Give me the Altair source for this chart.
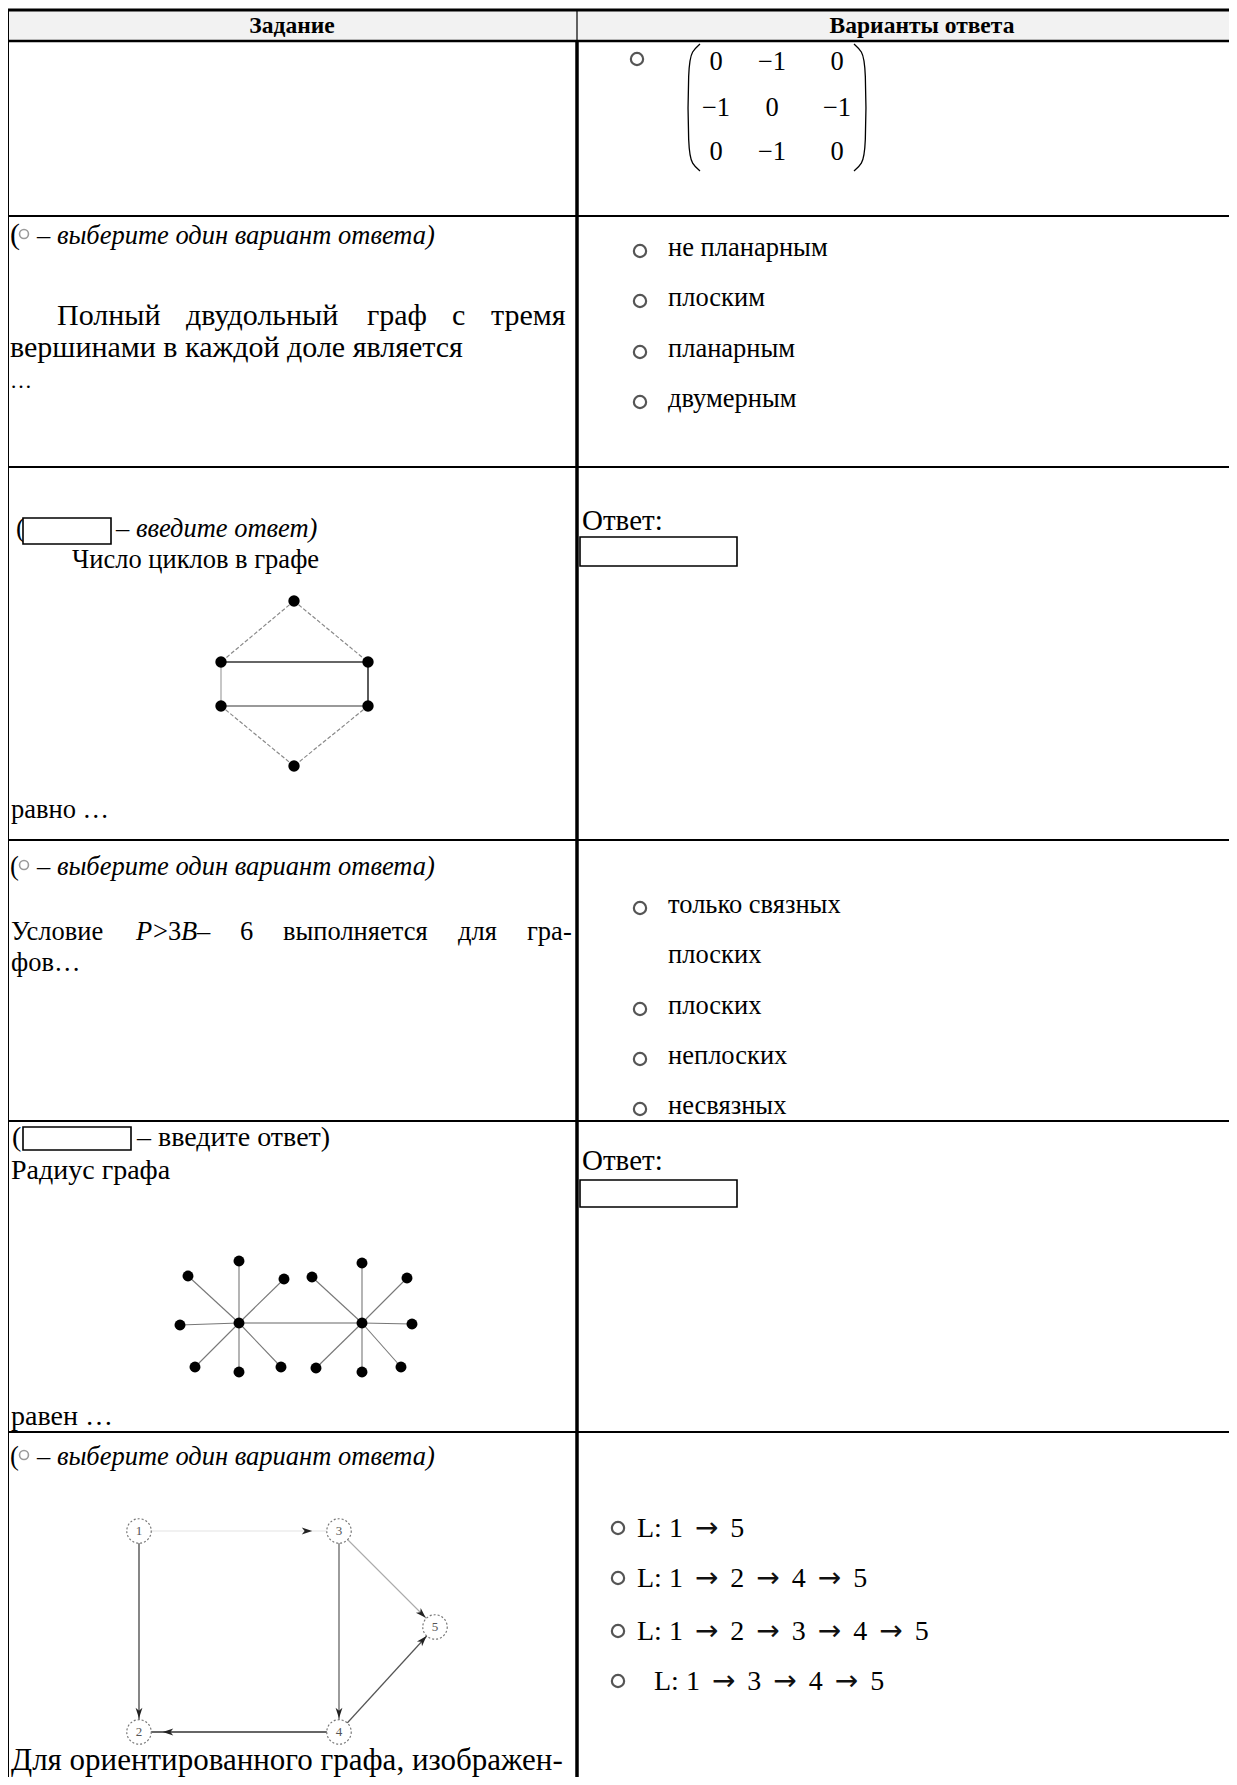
import altair as alt
import pandas as pd

FONT = "Liberation Serif"
FS = 26.5          # main body font size
X_DOM = [8, 1229]
Y_DOM = [8, 1777]
W = X_DOM[1] - X_DOM[0]
H = Y_DOM[1] - Y_DOM[0]

XS = alt.Scale(domain=X_DOM, nice=False, zero=False)
YS = alt.Scale(domain=Y_DOM, nice=False, zero=False, reverse=True)


def X(f="x"):
    return alt.X(f"{f}:Q", scale=XS, axis=None)


def Y(f="y"):
    return alt.Y(f"{f}:Q", scale=YS, axis=None)


# ---------------- table grid ----------------
H_RULE_Y = [10, 41, 216, 467, 840, 1121, 1432]
H_RULE_W = [3, 2.5, 2, 2, 2, 2, 2]
V_RULE_X = [8, 577, 577]
V_RULE_Y1 = [10, 10, 41]
V_RULE_Y2 = [1785, 41, 1785]
V_RULE_W = [2, 1.2, 3.5]

HEADER_BOX = [8, 1237, 10, 41]
HEADER_TEXT = ["Задание", "Варианты ответа"]
HEADER_X = [292, 922]
HEADER_Y = [33, 33]

# ---------------- text (upright, left aligned) ----------------
UP_TEXT = [
    "(", "Полный", "двудольный", "граф", "с", "тремя",
    "вершинами в каждой доле является", "…",
    "(", "Число циклов в графе", "равно …", "Ответ:",
    "(", "Условие", ">3", "–", "6", "выполняется", "для", "гра-", "фов…",
    "(", "– введите ответ)", "Радиус графа", "равен …", "Ответ:",
    "(",
    "не планарным", "плоским", "планарным", "двумерным",
    "только связных", "плоских", "плоских", "неплоских", "несвязных",
    "Для ориентированного графа, изображен-",
]
UP_X = [
    10, 57, 186, 367, 452, 491,
    10, 10,
    16, 72, 11, 582,
    10, 11, 153, 197, 240, 283, 458, 527, 11,
    12, 137, 11, 11, 582,
    10,
    668, 668, 668, 668,
    668, 668, 668, 668, 668,
    11,
]
UP_Y = [
    244, 325, 325, 325, 325, 325,
    357, 388,
    537, 568, 818, 530,
    875, 940, 940, 940, 940, 940, 940, 940, 971,
    1146, 1146, 1179, 1425, 1170,
    1465,
    256, 306, 357, 407,
    913, 963, 1014, 1064, 1114,
    1770,
]
UP_SIZE = [
    30, 30, 30, 30, 30, 30,
    30, 22,
    FS, FS, FS, 29,
    FS, FS, FS, FS, FS, FS, FS, FS, FS,
    28, 28, 28, 28, 29,
    FS,
    FS, FS, FS, FS,
    FS, FS, FS, FS, FS,
    31,
]

IT_TEXT = ["– выберите один вариант ответа)", "– введите ответ)",
           "– выберите один вариант ответа)", "P", "B",
           "– выберите один вариант ответа)"]
IT_X = [37, 116, 37, 136, 181, 37]
IT_Y = [244, 537, 875, 940, 940, 1465]

# ---------------- answer options with arrows (row 6) ----------------
OPT6_SEQ = [["1", "5"], ["1", "2", "4", "5"], ["1", "2", "3", "4", "5"], ["1", "3", "4", "5"]]
OPT6_X = [637, 637, 637, 654]
OPT6_Y = [1537, 1587, 1640, 1690]

# ---------------- matrix ----------------
MATRIX = [["0", "−1", "0"], ["−1", "0", "−1"], ["0", "−1", "0"]]
MATRIX_COL_X = [716, 772, 837]
MATRIX_ROW_Y = [70, 116, 160]
LPAREN_X = [700, 692, 688, 688, 692, 700]
LPAREN_Y = [44, 51, 64, 152, 164, 171]
RPAREN_X = [854, 862, 866, 866, 862, 854]
RPAREN_Y = [44, 51, 64, 152, 164, 171]

# ---------------- radio buttons & input boxes ----------------
RADIO_X = [637, 640, 640, 640, 640, 640, 640, 640, 640, 618, 618, 618, 618]
RADIO_Y = [59, 251, 301, 352, 402, 908, 1009, 1059, 1109, 1528, 1578, 1631, 1681]
SMALL_RADIO_X = [24, 24, 24]
SMALL_RADIO_Y = [234, 865, 1455]
BOX_X1 = [23, 580, 23, 580]
BOX_X2 = [111, 737, 131, 737]
BOX_Y1 = [518, 537, 1127, 1180]
BOX_Y2 = [544, 566, 1150, 1207]

# ---------------- graph 1 (cycles) ----------------
G1_NODE_X = [294, 221, 368, 221, 368, 294]
G1_NODE_Y = [601, 662, 662, 706, 706, 766]
G1_SOLID = [(1, 2, "#333333", 1.6), (2, 4, "#333333", 1.6), (3, 4, "#777777", 1.6), (1, 3, "#999999", 1.1)]
G1_DASHED = [(0, 1), (0, 2), (3, 5), (4, 5)]

# ---------------- graph 2 (two stars) ----------------
G2_CENTER_X = [239, 362]
G2_CENTER_Y = [1323, 1323]
G2_LEAF_X = [239, 188, 284, 180, 195, 239, 281, 312, 362, 407, 412, 401, 362, 316]
G2_LEAF_Y = [1261, 1276, 1279, 1325, 1367, 1372, 1367, 1277, 1263, 1278, 1324, 1367, 1372, 1368]
G2_LEAF_CENTER = [0, 0, 0, 0, 0, 0, 0, 1, 1, 1, 1, 1, 1, 1]

# ---------------- graph 3 (digraph) ----------------
G3_LABEL = ["1", "2", "3", "4", "5"]
G3_X = [139, 139, 339, 339, 435]
G3_Y = [1531, 1732, 1531, 1732, 1627]
G3_EDGES = [(0, 2, "#e4e4e4", 1.2), (0, 1, "#444444", 1.3), (2, 3, "#666666", 1.3),
            (2, 4, "#aaaaaa", 1.1), (3, 4, "#555555", 1.2), (3, 1, "#333333", 1.4)]
ARROW_X = [307, 139, 339, 422, 423, 168]
ARROW_Y = [1531, 1713, 1713, 1614, 1640, 1732]
ARROW_ANGLE = [90, 180, 180, 135, 42, 270]
ARROW_SHAPE = "M0,-1L0.65,1L0,0.45L-0.65,1Z"

# ================= build frames =================
rules = pd.DataFrame({
    "x": [7] * len(H_RULE_Y) + V_RULE_X,
    "x2": [1237] * len(H_RULE_Y) + V_RULE_X,
    "y": H_RULE_Y + V_RULE_Y1,
    "y2": H_RULE_Y + V_RULE_Y2,
    "w": H_RULE_W + V_RULE_W,
    "c": ["black"] * (len(H_RULE_Y) + len(V_RULE_X)),
})

edge_rows = []
for a, b, c, w in G1_SOLID:
    edge_rows.append(dict(x=G1_NODE_X[a], y=G1_NODE_Y[a], x2=G1_NODE_X[b], y2=G1_NODE_Y[b], c=c, w=w))
for i, ci in enumerate(G2_LEAF_CENTER):
    edge_rows.append(dict(x=G2_LEAF_X[i], y=G2_LEAF_Y[i], x2=G2_CENTER_X[ci], y2=G2_CENTER_Y[ci], c="#777777", w=1.1))
edge_rows.append(dict(x=G2_CENTER_X[0], y=G2_CENTER_Y[0], x2=G2_CENTER_X[1], y2=G2_CENTER_Y[1], c="#666666", w=1.2))
for a, b, c, w in G3_EDGES:
    edge_rows.append(dict(x=G3_X[a], y=G3_Y[a], x2=G3_X[b], y2=G3_Y[b], c=c, w=w))
edges = pd.DataFrame(edge_rows)

dashed = pd.DataFrame([dict(x=G1_NODE_X[a], y=G1_NODE_Y[a], x2=G1_NODE_X[b], y2=G1_NODE_Y[b]) for a, b in G1_DASHED])

# token layout for "L: 1 → 2 → ..." (serif text, wide arrows)
OPT_FS = 28
W_L = 0.889 * OPT_FS      # "L:"
W_SP = 0.25 * OPT_FS
W_DIG = 0.5 * OPT_FS
ARROW_FS = 28
W_ARR = 0.838 * ARROW_FS
GAP = 12
opt_txt_rows, opt_arr_rows = [], []
for seq, x0, y0 in zip(OPT6_SEQ, OPT6_X, OPT6_Y):
    opt_txt_rows.append(dict(t="L:", x=x0, y=y0))
    xd = x0 + W_L + W_SP
    opt_txt_rows.append(dict(t=seq[0], x=xd, y=y0))
    for d in seq[1:]:
        xa = xd + W_DIG + GAP
        opt_arr_rows.append(dict(t="→", x=xa, y=y0))
        xd = xa + W_ARR + GAP
        opt_txt_rows.append(dict(t=d, x=xd, y=y0))
opt_txt = pd.DataFrame(opt_txt_rows)
opt_arr = pd.DataFrame(opt_arr_rows)

header_box = pd.DataFrame({"x": [HEADER_BOX[0]], "x2": [HEADER_BOX[1]], "y": [HEADER_BOX[2]], "y2": [HEADER_BOX[3]]})
header_txt = pd.DataFrame({"t": HEADER_TEXT, "x": HEADER_X, "y": HEADER_Y})
up_txt = pd.DataFrame({"t": UP_TEXT, "x": UP_X, "y": UP_Y, "s": UP_SIZE})
it_txt = pd.DataFrame({"t": IT_TEXT, "x": IT_X, "y": IT_Y})

mat_rows = []
for r, row in enumerate(MATRIX):
    for c, v in enumerate(row):
        mat_rows.append(dict(t=v, x=MATRIX_COL_X[c], y=MATRIX_ROW_Y[r]))
mat_txt = pd.DataFrame(mat_rows)

paren = pd.DataFrame({
    "x": LPAREN_X + RPAREN_X,
    "y": LPAREN_Y + RPAREN_Y,
    "o": list(range(len(LPAREN_X))) * 2,
    "p": ["L"] * len(LPAREN_X) + ["R"] * len(RPAREN_X),
})

radios = pd.DataFrame({"x": RADIO_X, "y": RADIO_Y})
small_radios = pd.DataFrame({"x": SMALL_RADIO_X, "y": SMALL_RADIO_Y})
boxes = pd.DataFrame({"x": BOX_X1, "x2": BOX_X2, "y": BOX_Y1, "y2": BOX_Y2})

g1_nodes = pd.DataFrame({"x": G1_NODE_X, "y": G1_NODE_Y})
g2_nodes = pd.DataFrame({"x": G2_LEAF_X + G2_CENTER_X, "y": G2_LEAF_Y + G2_CENTER_Y})
g3_nodes = pd.DataFrame({"t": G3_LABEL, "x": G3_X, "y": G3_Y})
arrows = pd.DataFrame({"x": ARROW_X, "y": ARROW_Y, "a": ARROW_ANGLE})

# ================= layers =================
layers = []

layers.append(alt.Chart(header_box).mark_rect(color="#f2f2f2").encode(
    x=X(), x2=alt.X2("x2:Q"), y=Y(), y2=alt.Y2("y2:Q")))

layers.append(alt.Chart(edges).mark_rule().encode(
    x=X(), x2=alt.X2("x2:Q"), y=Y(), y2=alt.Y2("y2:Q"),
    color=alt.Color("c:N", scale=None), strokeWidth=alt.StrokeWidth("w:Q", scale=None)))

layers.append(alt.Chart(dashed).mark_rule(color="#8a8a8a", strokeWidth=1.2, strokeDash=[4, 2]).encode(
    x=X(), x2=alt.X2("x2:Q"), y=Y(), y2=alt.Y2("y2:Q")))

layers.append(alt.Chart(header_txt).mark_text(
    font=FONT, fontSize=23.5, fontWeight="bold", align="center", baseline="alphabetic", color="black"
).encode(x=X(), y=Y(), text="t:N"))

layers.append(alt.Chart(up_txt).mark_text(
    font=FONT, align="left", baseline="alphabetic", color="black"
).encode(x=X(), y=Y(), text="t:N", size=alt.Size("s:Q", scale=None)))

layers.append(alt.Chart(it_txt).mark_text(
    font=FONT, fontSize=FS, fontStyle="italic", align="left", baseline="alphabetic", color="black"
).encode(x=X(), y=Y(), text="t:N"))

layers.append(alt.Chart(opt_txt).mark_text(
    font=FONT, fontSize=OPT_FS, align="left", baseline="alphabetic", color="black"
).encode(x=X(), y=Y(), text="t:N"))

layers.append(alt.Chart(opt_arr).mark_text(
    font="DejaVu Sans", fontSize=ARROW_FS, align="left", baseline="alphabetic", color="#111111"
).encode(x=X(), y=Y(), text="t:N"))

layers.append(alt.Chart(mat_txt).mark_text(
    font=FONT, fontSize=FS, align="center", baseline="alphabetic", color="black"
).encode(x=X(), y=Y(), text="t:N"))

layers.append(alt.Chart(paren).mark_line(color="black", strokeWidth=1.3, interpolate="basis").encode(
    x=X(), y=Y(), order="o:Q", detail="p:N"))

# table lines drawn after the text so the column divider stays on top
layers.append(alt.Chart(rules).mark_rule().encode(
    x=X(), x2=alt.X2("x2:Q"), y=Y(), y2=alt.Y2("y2:Q"),
    color=alt.Color("c:N", scale=None), strokeWidth=alt.StrokeWidth("w:Q", scale=None)))

layers.append(alt.Chart(radios).mark_point(
    shape="circle", size=150, filled=True, fill="white", stroke="#555555", strokeWidth=2.2, opacity=1
).encode(x=X(), y=Y()))

layers.append(alt.Chart(small_radios).mark_point(
    shape="circle", size=80, filled=True, fill="white", stroke="#9a9a9a", strokeWidth=1.6, opacity=1
).encode(x=X(), y=Y()))

layers.append(alt.Chart(boxes).mark_rect(fill="white", stroke="black", strokeWidth=1.6).encode(
    x=X(), x2=alt.X2("x2:Q"), y=Y(), y2=alt.Y2("y2:Q")))

layers.append(alt.Chart(g1_nodes).mark_point(
    shape="circle", size=130, filled=True, color="black", opacity=1).encode(x=X(), y=Y()))

layers.append(alt.Chart(g2_nodes).mark_point(
    shape="circle", size=120, filled=True, color="black", opacity=1).encode(x=X(), y=Y()))

layers.append(alt.Chart(g3_nodes).mark_point(
    shape="circle", size=600, filled=True, fill="white", stroke="#777777", strokeWidth=1.2,
    strokeDash=[2, 2], opacity=1).encode(x=X(), y=Y()))

layers.append(alt.Chart(g3_nodes).mark_text(
    font=FONT, fontSize=13, align="center", baseline="middle", color="#555555"
).encode(x=X(), y=Y(), text="t:N"))

layers.append(alt.Chart(arrows).mark_point(
    shape=ARROW_SHAPE, size=110, filled=True, color="#222222", opacity=1
).encode(x=X(), y=Y(), angle=alt.Angle("a:Q", scale=None)))

chart = alt.layer(*layers).properties(
    width=W, height=H, padding=0, background="white",
    autosize=alt.AutoSizeParams(type="none"),
).configure_view(strokeWidth=0)

chart.save("out.html", embed_options={"renderer": "svg", "actions": False})
